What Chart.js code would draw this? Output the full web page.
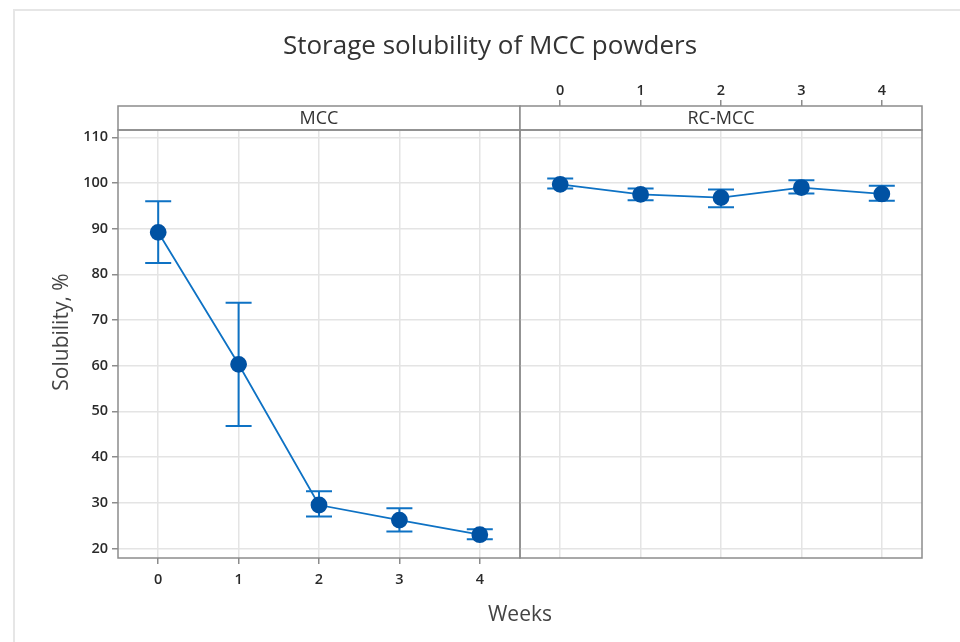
<!DOCTYPE html>
<html lang="en">
<head>
    <meta charset="UTF-8">
    <title>Storage solubility of MCC powders</title>
    <script src="https://cdn.jsdelivr.net/npm/chart.js"></script>
    <style>
        body {
            margin: 0;
            background: #fff;
            font-family: "Open Sans", Arial, sans-serif;
        }
        .wrap {
            position: relative;
            width: 960px;
            height: 642px;
            overflow: hidden;
        }
        .frame {
            position: absolute;
            left: 13px;
            top: 9px;
            width: 960px;
            height: 640px;
            border-top: 2px solid #e6e6e6;
            border-left: 2px solid #e6e6e6;
        }
        canvas {
            position: absolute;
            left: 0;
            top: 0;
        }
        .title {
            position: absolute;
            top: 27px;
            left: 0;
            width: 980px;
            text-align: center;
            font-size: 26px;
            line-height: 34px;
            color: #333;
        }
        .xlabel {
            position: absolute;
            top: 598px;
            left: 0;
            width: 1040px;
            text-align: center;
            font-size: 21px;
            line-height: 30px;
            color: #444;
        }
    </style>
</head>
<body>
    <div class="wrap">
        <div class="frame"></div>
        <canvas id="mccChart" width="960" height="642"></canvas>
        <canvas id="rcChart" width="960" height="642"></canvas>
        <div class="title">Storage solubility of MCC powders</div>
        <div class="xlabel">Weeks</div>
    </div>
    <script>
        // data (mean and error bar ends)
        const weeks = [0, 1, 2, 3, 4];
        const yTicks = [20, 30, 40, 50, 60, 70, 80, 90, 100, 110];

        const mccMean = [89.2, 60.3, 29.5, 26.2, 23.0];
        const mccLow = [82.5, 46.8, 27.0, 23.7, 22.0];
        const mccHigh = [96.0, 73.8, 32.5, 28.8, 24.2];

        const rcMean = [99.7, 97.5, 96.8, 99.0, 97.6];
        const rcLow = [98.8, 96.2, 94.7, 97.7, 96.1];
        const rcHigh = [101.0, 98.8, 98.6, 100.6, 99.4];

        const lineColor = '#0e72c4';
        const markColor = '#0052a3';
        const gridColor = '#e4e4e4';
        const frameColor = '#8c8c8c';
        const textColor = '#2a2a2a';
        const font = '"Open Sans", Arial, sans-serif';

        Chart.defaults.font.family = font;

        const STRIP_TOP = 106;

        const errorBars = {
            id: 'errorBars',
            beforeDatasetsDraw(chart, args, opts) {
                const { ctx, scales: { x, y } } = chart;
                ctx.save();
                ctx.strokeStyle = lineColor;
                ctx.lineWidth = 2;
                weeks.forEach((w, i) => {
                    const px = x.getPixelForValue(w);
                    const top = y.getPixelForValue(opts.high[i]);
                    const bot = y.getPixelForValue(opts.low[i]);
                    ctx.beginPath();
                    ctx.moveTo(px, top);
                    ctx.lineTo(px, bot);
                    ctx.moveTo(px - 13, top);
                    ctx.lineTo(px + 13, top);
                    ctx.moveTo(px - 13, bot);
                    ctx.lineTo(px + 13, bot);
                    ctx.stroke();
                });
                ctx.restore();
            }
        };

        // panel frame + header strip (and the y title on the left panel)
        const facet = {
            id: 'facet',
            afterDraw(chart, args, opts) {
                const { ctx, chartArea: a } = chart;
                ctx.save();
                ctx.fillStyle = '#fff';
                ctx.fillRect(a.left, STRIP_TOP, a.right - a.left, a.top - STRIP_TOP);
                ctx.strokeStyle = frameColor;
                ctx.lineWidth = 1.5;
                ctx.strokeRect(a.left, STRIP_TOP, a.right - a.left, a.top - STRIP_TOP);
                ctx.strokeRect(a.left, a.top, a.right - a.left, a.bottom - a.top);
                ctx.fillStyle = '#333';
                ctx.font = '18px ' + font;
                ctx.textAlign = 'center';
                ctx.textBaseline = 'middle';
                ctx.fillText(opts.label, (a.left + a.right) / 2, (STRIP_TOP + a.top) / 2 + 1);
                if (opts.yTitle) {
                    ctx.translate(62, (STRIP_TOP + a.bottom) / 2);
                    ctx.rotate(-Math.PI / 2);
                    ctx.fillStyle = '#444';
                    ctx.font = '21px ' + font;
                    ctx.fillText(opts.yTitle, 0, 0);
                }
                ctx.restore();
            }
        };

        function pts(vals) {
            return weeks.map((w, i) => ({ x: w, y: vals[i] }));
        }

        function dataset(vals) {
            return {
                data: pts(vals),
                showLine: true,
                borderColor: lineColor,
                borderWidth: 1.8,
                pointRadius: 7.5,
                pointBackgroundColor: markColor,
                pointBorderColor: markColor,
                tension: 0
            };
        }

        const setWeekTicks = s => { s.ticks = weeks.map(v => ({ value: v })); };
        const setYTicks = s => { s.ticks = yTicks.map(v => ({ value: v })); };
        const tickFont = { size: 14.5, weight: '600' };

        new Chart(document.getElementById('mccChart'), {
            type: 'scatter',
            data: { datasets: [dataset(mccMean)] },
            options: {
                responsive: false,
                animation: false,
                devicePixelRatio: 1,
                layout: { padding: { top: 130, right: 440, bottom: 44, left: 0 } },
                plugins: {
                    legend: { display: false },
                    tooltip: { enabled: false },
                    errorBars: { low: mccLow, high: mccHigh },
                    facet: { label: 'MCC', yTitle: 'Solubility, %' }
                },
                scales: {
                    x: {
                        type: 'linear',
                        min: -0.5,
                        max: 4.5,
                        afterBuildTicks: setWeekTicks,
                        afterFit: s => { s.height = 40; },
                        border: { display: false },
                        grid: { color: gridColor, lineWidth: 1.5, tickColor: frameColor, tickLength: 6 },
                        ticks: { color: textColor, font: tickFont, padding: 7, maxRotation: 0 }
                    },
                    y: {
                        min: 17.9,
                        max: 111.6,
                        afterBuildTicks: setYTicks,
                        afterFit: s => { s.width = 118; },
                        border: { display: false },
                        grid: { color: gridColor, lineWidth: 1.5, tickColor: frameColor, tickLength: 6 },
                        ticks: { color: textColor, font: tickFont, padding: 4 }
                    }
                }
            },
            plugins: [errorBars, facet]
        });

        new Chart(document.getElementById('rcChart'), {
            type: 'scatter',
            data: { datasets: [dataset(rcMean)] },
            options: {
                responsive: false,
                animation: false,
                devicePixelRatio: 1,
                layout: { padding: { top: 60, right: 38, bottom: 84, left: 520 } },
                plugins: {
                    legend: { display: false },
                    tooltip: { enabled: false },
                    errorBars: { low: rcLow, high: rcHigh },
                    facet: { label: 'RC-MCC' }
                },
                scales: {
                    x: {
                        type: 'linear',
                        position: 'top',
                        min: -0.5,
                        max: 4.5,
                        afterBuildTicks: setWeekTicks,
                        afterFit: s => { s.height = 70; },
                        border: { display: false },
                        grid: { color: gridColor, lineWidth: 1.5, tickColor: frameColor, tickLength: 30 },
                        ticks: { color: textColor, font: tickFont, padding: 0, maxRotation: 0 }
                    },
                    y: {
                        min: 17.9,
                        max: 111.6,
                        afterBuildTicks: setYTicks,
                        afterFit: s => { s.width = 0; },
                        border: { display: false },
                        grid: { color: gridColor, lineWidth: 1.5, drawTicks: false },
                        ticks: { display: false }
                    }
                }
            },
            plugins: [errorBars, facet]
        });
    </script>
</body>
</html>
